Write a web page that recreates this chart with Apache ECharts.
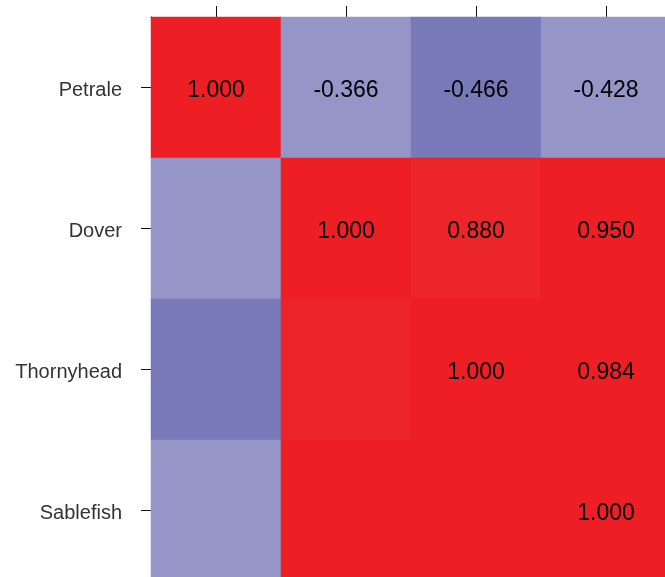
<!DOCTYPE html>
<html>
<head>
<meta charset="utf-8">
<script src="https://cdn.jsdelivr.net/npm/echarts@6/dist/echarts.min.js"></script>
<style>
  html, body { margin: 0; padding: 0; background: #fff; }
  #chart { width: 665px; height: 577px; }
</style>
</head>
<body>
<div id="chart"></div>
<script>
// Correlation matrix between species indices
const species = ['Petrale', 'Dover', 'Thornyhead', 'Sablefish'];
const petrale    = [1.000, -0.366, -0.466, -0.428];
const dover      = [-0.366, 1.000, 0.880, 0.950];
const thornyhead = [-0.466, 0.880, 1.000, 0.984];
const sablefish  = [-0.428, 0.950, 0.984, 1.000];
const matrix = [petrale, dover, thornyhead, sablefish];

// Heatmap cells: [column, row, value]; values are printed on the diagonal and above it
const cells = [];
matrix.forEach((row, r) => {
  row.forEach((v, c) => {
    cells.push({
      value: [c, r, v],
      label: { show: c >= r }
    });
  });
});

const chart = echarts.init(document.getElementById('chart'));
chart.setOption({
  animation: false,
  backgroundColor: '#ffffff',
  grid: {
    left: 151, top: 17, width: 520, height: 564,
    containLabel: false,
    outerBoundsMode: 'none'
  },
  xAxis: {
    type: 'category',
    data: species,
    position: 'top',
    axisLine: { show: true, lineStyle: { color: '#111111', width: 1 } },
    axisTick: { show: true, alignWithLabel: true, length: 11, lineStyle: { color: '#111111' } },
    axisLabel: { show: false },
    splitLine: { show: false }
  },
  yAxis: {
    type: 'category',
    data: species,
    inverse: true,
    axisLine: { show: true, lineStyle: { color: '#111111', width: 1 } },
    axisTick: { show: true, alignWithLabel: true, length: 10, lineStyle: { color: '#111111' } },
    axisLabel: {
      show: true,
      margin: 29,
      formatter: name => '{n|' + name + '}',
      rich: {
        n: {
          color: '#333333',
          fontFamily: 'Liberation Sans, Arial, sans-serif',
          fontSize: 20,
          padding: [6, 0, 0, 0]
        }
      }
    },
    splitLine: { show: false }
  },
  visualMap: {
    show: false,
    type: 'piecewise',
    dimension: 2,
    pieces: [
      { lt: -0.45, color: '#7779b8' },
      { gte: -0.45, lt: 0, color: '#9695c8' },
      { gte: 0, lt: 0.9, color: '#ec2528' },
      { gte: 0.9, color: '#ee1f24' }
    ]
  },
  series: [{
    type: 'heatmap',
    data: cells,
    itemStyle: { borderWidth: 0 },
    label: {
      color: '#000000',
      fontFamily: 'Liberation Sans, Arial, sans-serif',
      fontSize: 23,
      offset: [0, 3],
      formatter: p => p.value[2].toFixed(3)
    },
    emphasis: { disabled: true }
  }]
});
</script>
</body>
</html>
